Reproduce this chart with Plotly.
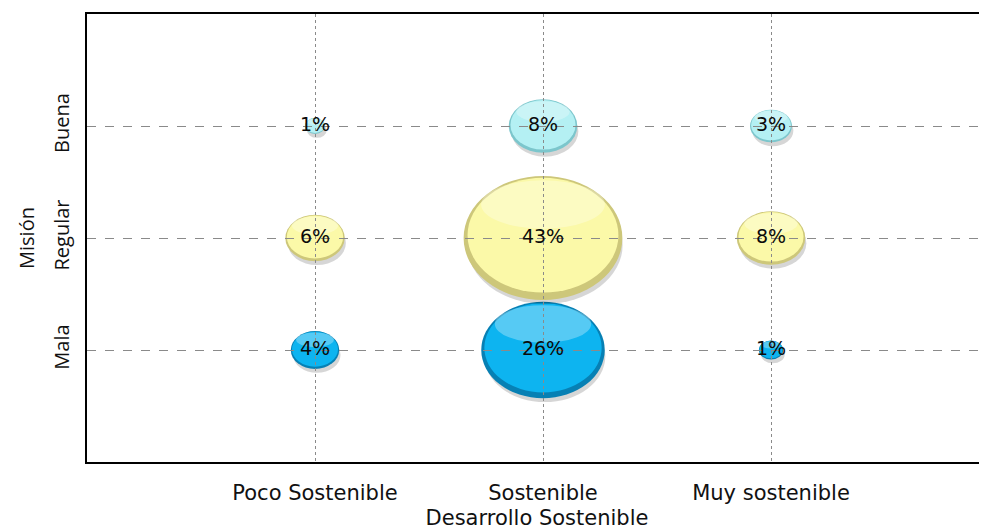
import math
import plotly.graph_objects as go

# Data
x_categories = ["Poco Sostenible", "Sostenible", "Muy sostenible"]
y_categories = ["Mala", "Regular", "Buena"]
values_buena = [0.7, 8, 3]
values_regular = [6, 43, 8]
values_mala = [4, 26, 1]
labels_buena = ["1%", "8%", "3%"]
labels_regular = ["6%", "43%", "8%"]
labels_mala = ["4%", "26%", "1%"]

# name, values, labels, fill, edge
series = [
    ("Mala", values_mala, labels_mala, "#0db4f0", "#0780b4"),
    ("Regular", values_regular, labels_regular, "#fbf9a8", "#cdc77a"),
    ("Buena", values_buena, labels_buena, "#b4f0f3", "#7cc6cc"),
]

x_pos = {c: i + 1 for i, c in enumerate(x_categories)}
y_pos = {c: i + 1 for i, c in enumerate(y_categories)}

# bubble size scale (radius in axis units per sqrt(percent))
RX = 0.0531
RY = 0.0844

fig = go.Figure()
shapes = []
for name, vals, labs, fill, edge in series:
    yy = y_pos[name]
    for cat, v, lab in zip(x_categories, vals, labs):
        xx = x_pos[cat]
        rx = RX * math.sqrt(v)
        ry = RY * math.sqrt(v)
        # soft shadow
        shapes.append(dict(type="circle", xref="x", yref="y", layer="below",
                           x0=xx - rx * 0.98 + 0.008, x1=xx + rx * 0.98 + 0.008,
                           y0=yy - ry - 0.035, y1=yy + ry * 0.9 - 0.035,
                           fillcolor="rgba(0,0,0,0.16)", line=dict(width=0)))
        # darker rim
        shapes.append(dict(type="circle", xref="x", yref="y", layer="below",
                           x0=xx - rx, x1=xx + rx, y0=yy - ry, y1=yy + ry,
                           fillcolor=edge, line=dict(width=0)))
        # main body
        shapes.append(dict(type="circle", xref="x", yref="y", layer="below",
                           x0=xx - rx * 0.95, x1=xx + rx * 0.95,
                           y0=yy - ry * 0.88, y1=yy + ry * 0.97,
                           fillcolor=fill, line=dict(width=0)))
        # highlight
        shapes.append(dict(type="circle", xref="x", yref="y", layer="below",
                           x0=xx - rx * 0.78, x1=xx + rx * 0.78,
                           y0=yy + ry * 0.15, y1=yy + ry * 0.93,
                           fillcolor="rgba(255,255,255,0.30)", line=dict(width=0)))
    fig.add_trace(go.Scatter(
        x=[x_pos[c] for c in x_categories], y=[yy] * 3,
        mode="text", text=labs,
        textfont=dict(family="DejaVu Sans", size=19, color="#0a0a0a"),
        hoverinfo="skip", showlegend=False, name=name,
    ))

fig.update_layout(
    width=979, height=522,
    margin=dict(l=79, r=0, t=6, b=68),
    paper_bgcolor="white", plot_bgcolor="white",
    shapes=shapes,
    showlegend=False,
    font=dict(family="DejaVu Sans", color="#111111"),
    xaxis=dict(
        range=[0, 900 / 228], tickvals=[1, 2, 3], ticktext=x_categories,
        showline=True, linecolor="black", linewidth=2, mirror=True,
        showgrid=True, gridcolor="#8a8a8a", griddash="dot", gridwidth=1,
        zeroline=False, ticks="", ticklabelstandoff=11,
        tickfont=dict(family="DejaVu Sans", size=21, color="#111111"),
        title=dict(text="Desarrollo Sostenible", standoff=11,
                   font=dict(family="DejaVu Sans", size=21, color="#111111")),
        fixedrange=True,
    ),
    yaxis=dict(
        range=[0, 4], tickvals=[1, 2, 3], ticktext=y_categories,
        showline=True, linecolor="black", linewidth=2, mirror=False,
        showgrid=True, gridcolor="#8a8a8a", griddash="dash", gridwidth=1.3,
        zeroline=False, ticks="", tickangle=-90, ticklabelstandoff=8,
        tickfont=dict(family="Open Sans", size=20, color="#111111"),
        title=dict(text="Misión", standoff=8,
                   font=dict(family="Open Sans", size=20, color="#111111")),
        fixedrange=True,
    ),
)

fig.write_html("out.html")
